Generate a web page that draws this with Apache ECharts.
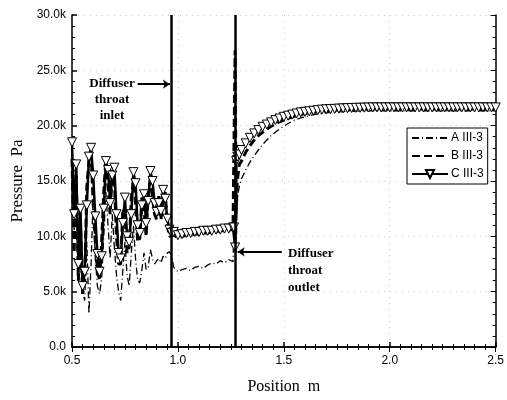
<!DOCTYPE html>
<html>
<head>
<meta charset="utf-8">
<script src="https://cdn.jsdelivr.net/npm/echarts@6/dist/echarts.min.js"></script>
<style>
  html, body { margin: 0; padding: 0; background: #fff; }
  #main { width: 507px; height: 400px; }
</style>
</head>
<body>
<div id="main"></div>
<script>
// sample positions (m)
var positions = [
  0.50, 0.51, 0.52, 0.53, 0.54, 0.55, 0.56, 0.57, 0.58, 0.59,
  0.60, 0.61, 0.62, 0.63, 0.64, 0.65, 0.66, 0.67, 0.68, 0.69,
  0.70, 0.71, 0.72, 0.73, 0.74, 0.75, 0.76, 0.77, 0.78, 0.79,
  0.80, 0.81, 0.82, 0.83, 0.84, 0.85, 0.86, 0.87, 0.88, 0.89,
  0.90, 0.91, 0.92, 0.93, 0.94, 0.95, 0.96, 0.97,
  0.98, 1.00, 1.02, 1.04, 1.06, 1.08, 1.10, 1.12, 1.14, 1.16, 1.18, 1.20, 1.22, 1.24, 1.26,
  1.265, 1.27, 1.275, 1.28, 1.29,
  1.30, 1.32, 1.34, 1.36, 1.38, 1.40, 1.42, 1.44, 1.46, 1.48,
  1.50, 1.52, 1.54, 1.56, 1.58, 1.60, 1.62, 1.64, 1.66, 1.68,
  1.70, 1.72, 1.74, 1.76, 1.78, 1.80, 1.82, 1.84, 1.86, 1.88,
  1.90, 1.92, 1.94, 1.96, 1.98, 2.00, 2.02, 2.04, 2.06, 2.08,
  2.10, 2.12, 2.14, 2.16, 2.18, 2.20, 2.22, 2.24, 2.26, 2.28,
  2.30, 2.32, 2.34, 2.36, 2.38, 2.40, 2.42, 2.44, 2.46, 2.48, 2.50
];

// pressure in kPa (thousands of Pa)
var pressureA = [
  15.0, 10.5, 13.0, 6.0, 9.0, 5.0, 4.2, 9.5, 3.0, 7.5,
  13.5, 8.0, 5.5, 4.8, 6.2, 10.0, 14.0, 11.0, 8.0, 12.0,
  9.0, 6.5, 5.0, 4.2, 7.0, 9.5, 6.5, 5.5, 8.5, 11.0,
  8.0, 6.0, 5.8, 7.0, 8.5, 7.0, 7.2, 8.8, 8.0, 7.5,
  7.8, 8.0, 7.6, 8.2, 8.0, 8.5, 8.6, 8.3,
  7.2, 6.8, 7.0, 7.1, 6.9, 7.2, 7.3, 7.1, 7.4, 7.6, 7.5, 7.8, 7.6, 7.9, 7.7,
  7.8, 14.0, 8.5, 13.5, 14.5,
  15.2, 16.0, 16.7, 17.3, 17.8, 18.3, 18.7, 19.1, 19.4, 19.7,
  19.95, 20.2, 20.4, 20.55, 20.7, 20.8, 20.9, 21.0, 21.05, 21.1,
  21.15, 21.2, 21.22, 21.25, 21.27, 21.3, 21.3, 21.32, 21.33, 21.34,
  21.35, 21.35, 21.35, 21.35, 21.35, 21.35, 21.35, 21.35, 21.35, 21.35,
  21.35, 21.35, 21.35, 21.35, 21.35, 21.35, 21.35, 21.35, 21.35, 21.35,
  21.35, 21.35, 21.35, 21.35, 21.35, 21.35, 21.35, 21.35, 21.35, 21.35, 21.35
];

var pressureB = [
  17.0, 8.5, 15.5, 6.0, 11.0, 4.8, 6.0, 14.5, 16.8, 17.5,
  13.0, 9.5, 7.0, 6.0, 9.5, 14.0, 17.0, 14.5, 12.0, 16.0,
  15.0, 10.0, 7.5, 7.5, 12.5, 12.0, 8.5, 9.0, 13.5, 15.0,
  13.0, 9.5, 9.8, 13.5, 12.5, 10.0, 14.0, 15.0, 13.5, 12.0,
  11.5, 13.8, 11.5, 13.5, 14.0, 11.0, 10.0, 10.0,
  10.1, 9.9, 10.0, 10.1, 10.1, 10.2, 10.2, 10.3, 10.3, 10.4, 10.4, 10.5, 10.5, 10.6, 10.6,
  10.6, 26.8, 12.0, 15.0, 16.5,
  16.8, 17.6, 18.2, 18.7, 19.1, 19.4, 19.7, 19.95, 20.15, 20.35,
  20.5, 20.65, 20.8, 20.9, 21.0, 21.1, 21.15, 21.2, 21.25, 21.3,
  21.35, 21.38, 21.4, 21.42, 21.44, 21.46, 21.47, 21.48, 21.49, 21.5,
  21.5, 21.5, 21.5, 21.5, 21.5, 21.5, 21.5, 21.5, 21.5, 21.5,
  21.5, 21.5, 21.5, 21.5, 21.5, 21.5, 21.5, 21.5, 21.5, 21.5,
  21.5, 21.5, 21.5, 21.5, 21.5, 21.5, 21.5, 21.5, 21.5, 21.5, 21.5
];

var pressureC = [
  18.5, 12.0, 16.5, 7.5, 12.5, 5.5, 6.8, 12.8, 17.2, 18.0,
  15.5, 11.8, 8.4, 6.8, 8.2, 12.5, 16.8, 16.0, 13.0, 15.5,
  16.2, 12.0, 8.5, 8.0, 11.2, 13.5, 10.0, 9.5, 12.0, 15.8,
  14.8, 11.0, 10.3, 12.8, 13.8, 11.2, 13.2, 15.9, 15.0, 13.0,
  12.2, 13.0, 12.3, 14.2, 13.4, 11.6, 10.6, 10.3,
  10.4, 10.1, 10.2, 10.3, 10.3, 10.4, 10.4, 10.5, 10.5, 10.5, 10.6, 10.6, 10.7, 10.7, 10.8,
  10.8, 9.0, 16.8, 17.2, 17.4,
  17.8, 18.4, 18.9, 19.3, 19.6, 19.9, 20.1, 20.3, 20.5, 20.65,
  20.8, 20.9, 21.0, 21.1, 21.2, 21.25, 21.3, 21.35, 21.4, 21.45,
  21.48, 21.5, 21.52, 21.54, 21.56, 21.58, 21.6, 21.61, 21.62, 21.63,
  21.64, 21.65, 21.65, 21.65, 21.65, 21.65, 21.65, 21.65, 21.65, 21.65,
  21.65, 21.65, 21.65, 21.65, 21.65, 21.65, 21.65, 21.65, 21.65, 21.65,
  21.65, 21.65, 21.65, 21.65, 21.65, 21.65, 21.65, 21.65, 21.65, 21.65, 21.65
];

var seriesNames = ['A III-3', 'B III-3', 'C III-3'];
var throatInlet = 0.974;
var throatOutlet = 1.268;

function pairs(vals) {
  var out = [];
  for (var i = 0; i < positions.length; i++) {
    out.push([positions[i], vals[i]]);
  }
  return out;
}

var myChart = echarts.init(document.getElementById('main'));

var tickFont = { fontFamily: 'Liberation Sans', fontSize: 12, color: '#000' };
var axisLineStyle = { lineStyle: { color: '#000', width: 1.5 } };
// legend entries without marker: hide the symbol, keep the line
var noMarker = { color: 'rgba(0,0,0,0)', borderWidth: 0 };

var option = {
  animation: false,
  backgroundColor: '#fff',
  grid: { left: 72, right: 9, top: 15, bottom: 53 },
  legend: {
    data: [
      { name: seriesNames[0], itemStyle: noMarker },
      { name: seriesNames[1], itemStyle: noMarker },
      { name: seriesNames[2] }
    ],
    orient: 'vertical',
    left: 407,
    top: 128,
    itemWidth: 36,
    itemHeight: 10,
    itemGap: 6,
    padding: [4, 4, 4, 4],
    borderColor: '#000',
    borderWidth: 1,
    backgroundColor: '#fff',
    textStyle: { fontFamily: 'Liberation Sans', fontSize: 12, color: '#000', padding: [0, 0, 0, -2] }
  },
  xAxis: [
    {
      type: 'value',
      min: 0.5, max: 2.5, interval: 0.5,
      name: 'Position  m',
      nameLocation: 'middle',
      nameGap: 32,
      nameTextStyle: { fontFamily: 'Liberation Serif', fontSize: 16, color: '#000' },
      axisLine: axisLineStyle,
      axisTick: { inside: true, length: 5, lineStyle: { color: '#000', width: 1.5 } },
      minorTick: { show: true, splitNumber: 10, length: 3, lineStyle: { color: '#000' } },
      axisLabel: Object.assign({ margin: 8, formatter: function (v) { return v.toFixed(1); } }, tickFont),
      splitLine: { show: true, lineStyle: { color: '#ccc', type: [1, 5] } }
    },
    {
      type: 'value', position: 'top',
      min: 0.5, max: 2.5, interval: 0.5,
      axisLine: axisLineStyle,
      axisTick: { inside: true, length: 5, lineStyle: { color: '#000' } },
      minorTick: { show: true, splitNumber: 10, length: 3, lineStyle: { color: '#000' } },
      axisLabel: { show: false },
      splitLine: { show: false }
    }
  ],
  yAxis: [
    {
      type: 'value',
      min: 0, max: 30, interval: 5,
      name: 'Pressure  Pa',
      nameLocation: 'middle',
      nameGap: 44,
      nameRotate: 90,
      nameTextStyle: { fontFamily: 'Liberation Serif', fontSize: 17, color: '#000' },
      axisLine: axisLineStyle,
      axisTick: { inside: true, length: 5, lineStyle: { color: '#000', width: 1.5 } },
      minorTick: { show: true, splitNumber: 5, length: 3, lineStyle: { color: '#000' } },
      axisLabel: Object.assign({ margin: 6, formatter: function (v) { return v === 0 ? '0.0' : v.toFixed(1) + 'k'; } }, tickFont),
      splitLine: { show: true, lineStyle: { color: '#ccc', type: [1, 5] } }
    },
    {
      type: 'value', position: 'right',
      min: 0, max: 30, interval: 5,
      axisLine: axisLineStyle,
      axisTick: { inside: true, length: 5, lineStyle: { color: '#000' } },
      minorTick: { show: true, splitNumber: 5, length: 3, lineStyle: { color: '#000' } },
      axisLabel: { show: false },
      splitLine: { show: false }
    }
  ],
  series: [
    {
      name: seriesNames[0],
      type: 'line',
      data: pairs(pressureA),
      symbol: 'none',
      lineStyle: { color: '#000', width: 1.3, type: [7, 3, 1, 3] },
      itemStyle: { color: '#000' },
      z: 2
    },
    {
      name: seriesNames[1],
      type: 'line',
      data: pairs(pressureB),
      symbol: 'none',
      lineStyle: { color: '#000', width: 3, type: [8, 4] },
      itemStyle: { color: '#000' },
      z: 3
    },
    {
      name: seriesNames[2],
      type: 'line',
      data: pairs(pressureC),
      symbol: 'triangle',
      symbolRotate: 180,
      symbolSize: 9,
      lineStyle: { color: '#000', width: 2.5 },
      itemStyle: { color: '#fff', borderColor: '#000', borderWidth: 1 },
      z: 4,
      markLine: {
        silent: true,
        symbol: 'none',
        label: { show: false },
        lineStyle: { color: '#000', width: 2.5, type: 'solid' },
        data: [
          { xAxis: throatInlet },
          { xAxis: throatOutlet },
          [
            { coord: [0.81, 23.75], symbol: 'none' },
            { coord: [0.962, 23.75], symbol: 'arrow', symbolSize: 7, lineStyle: { width: 2 } }
          ],
          [
            { coord: [1.49, 8.6], symbol: 'none' },
            { coord: [1.282, 8.6], symbol: 'arrow', symbolSize: 7, lineStyle: { width: 2 } }
          ]
        ]
      }
    }
  ],
  graphic: [
    {
      type: 'text', x: 112, y: 76,
      style: {
        text: 'Diffuser\nthroat\ninlet',
        font: 'bold 13px "Liberation Serif"',
        fill: '#000',
        textAlign: 'center',
        textVerticalAlign: 'top',
        lineHeight: 16
      }
    },
    {
      type: 'text', x: 288, y: 245,
      style: {
        text: 'Diffuser\nthroat\noutlet',
        font: 'bold 13px "Liberation Serif"',
        fill: '#000',
        textVerticalAlign: 'top',
        lineHeight: 17
      }
    }
  ]
};

myChart.setOption(option);
</script>
</body>
</html>
